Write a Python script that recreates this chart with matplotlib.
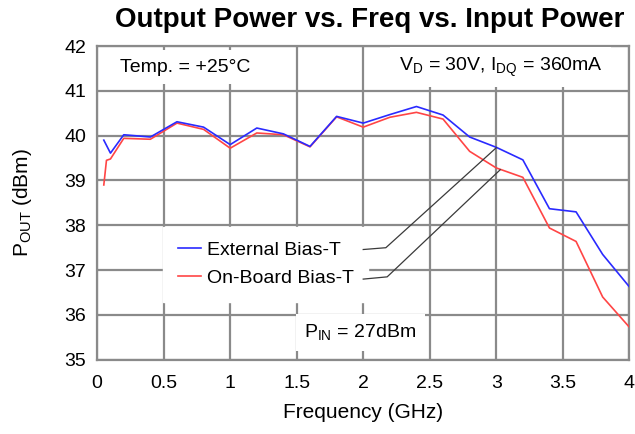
import matplotlib
matplotlib.use("Agg")
import matplotlib.pyplot as plt

# Output power (dBm) against frequency (GHz), P_IN = 27 dBm
ext_freq = [0.05, 0.1, 0.2, 0.4, 0.6, 0.8, 1.0, 1.2, 1.4, 1.6, 1.8, 2.0,
            2.2, 2.4, 2.6, 2.8, 3.0, 3.2, 3.4, 3.6, 3.8, 4.0]
ext_pout = [39.90, 39.61, 40.02, 39.97, 40.31, 40.19, 39.80, 40.17, 40.04,
            39.76, 40.43, 40.28, 40.47, 40.65, 40.46, 39.97, 39.74, 39.46,
            38.37, 38.30, 37.35, 36.63]

ob_freq = [0.05, 0.07, 0.1, 0.2, 0.4, 0.6, 0.8, 1.0, 1.2, 1.4, 1.6, 1.8,
           2.0, 2.2, 2.4, 2.6, 2.8, 3.0, 3.2, 3.4, 3.6, 3.8, 4.0]
ob_pout = [38.90, 39.45, 39.48, 39.94, 39.92, 40.28, 40.14, 39.72, 40.06,
           40.02, 39.75, 40.42, 40.19, 40.41, 40.52, 40.37, 39.65, 39.28,
           39.07, 37.94, 37.64, 36.40, 35.73]

x_ticks = [0, 0.5, 1, 1.5, 2, 2.5, 3, 3.5, 4]
x_labels = ["0", "0.5", "1", "1.5", "2", "2.5", "3", "3.5", "4"]
y_ticks = [35, 36, 37, 38, 39, 40, 41, 42]

plt.rcParams["font.family"] = ["Liberation Sans", "DejaVu Sans"]

fig = plt.figure(figsize=(6.35, 4.34), dpi=100)
ax = fig.add_axes([0.153, 0.171, 0.838, 0.723])

grid_c = "#8a8a8a"
ax.set_xlim(0, 4)
ax.set_ylim(35, 42)
ax.set_xticks(x_ticks)
ax.set_xticklabels(x_labels)
ax.set_yticks(y_ticks)
ax.grid(True, color=grid_c, linewidth=1.6, zorder=0)
for s in ax.spines.values():
    s.set_color(grid_c)
    s.set_linewidth(1.6)
ax.tick_params(length=0, labelsize=14, colors="black")
ax.tick_params(axis="x", pad=11)
ax.tick_params(axis="y", pad=8)

ax.plot(ext_freq, ext_pout, color="#2a2aff", linewidth=1.2,
        label="External Bias-T", zorder=4)
ax.plot(ob_freq, ob_pout, color="#ff4545", linewidth=1.2,
        label="On-Board Bias-T", zorder=3)

leg = ax.legend(loc="upper left", bbox_to_anchor=(0.124, 0.424),
                fontsize=14, handlelength=1.2, handletextpad=0.3,
                borderpad=0.75, labelspacing=0.55, fancybox=False,
                framealpha=1, edgecolor="white", borderaxespad=0)
leg.set_zorder(5)

# leader lines from the legend labels to the curves
ax.plot([2.0, 2.17, 3.0], [37.46, 37.50, 39.73], color="#3a3a3a",
        linewidth=0.9, zorder=6)
ax.plot([2.0, 2.18, 3.03], [36.80, 36.85, 39.24], color="#3a3a3a",
        linewidth=0.9, zorder=6)

box = dict(facecolor="white", edgecolor="none", pad=6)
ax.text(0.17, 41.53, "Temp. = +25°C", fontsize=14, va="center",
        ha="left", bbox=box, zorder=5)
ax.text(3.8, 41.53, r"V$_\mathregular{D}$ = 30V, I$_\mathregular{DQ}$ = 360mA",
        fontsize=14, va="center", ha="right", bbox=box, zorder=5)
ax.text(1.98, 35.6, r"P$_\mathregular{IN}$ = 27dBm", fontsize=14,
        va="center", ha="center", bbox=box, zorder=5)

ax.set_xlabel("Frequency (GHz)", fontsize=15, labelpad=8)
ax.set_ylabel(r"P$_\mathregular{OUT}$ (dBm)", fontsize=15, labelpad=22)
fig.text(0.582, 0.955, "Output Power vs. Freq vs. Input Power",
         fontsize=20, fontweight="bold", ha="center", va="center")

fig.savefig("out.png", dpi=100)
